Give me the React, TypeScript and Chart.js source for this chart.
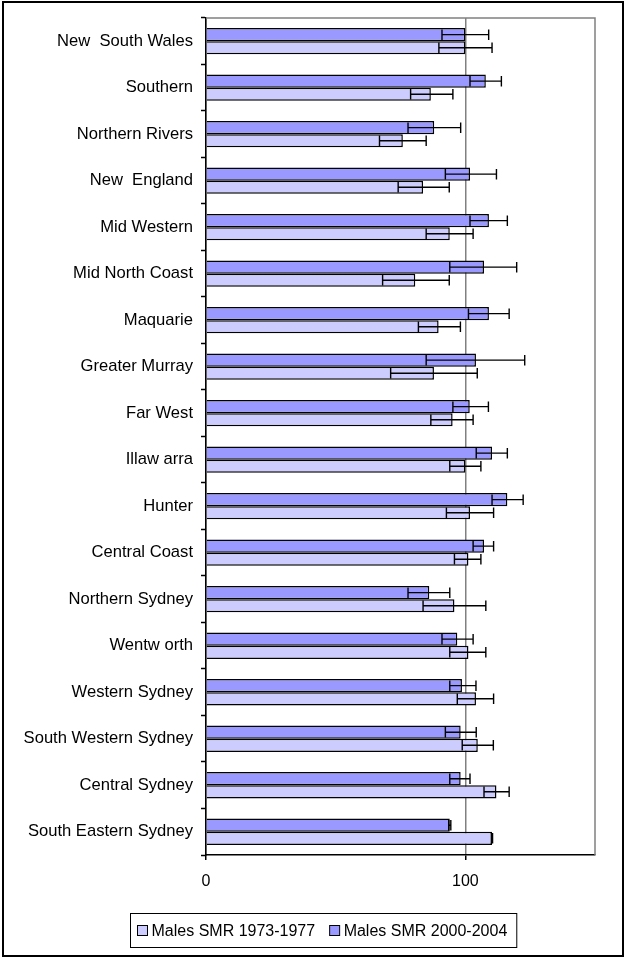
import React, { useEffect, useRef } from "react";
import { Chart, registerables } from "chart.js";

Chart.register(...registerables);

// Area health services, listed top to bottom
const regions = [
  "New  South Wales",
  "Southern",
  "Northern Rivers",
  "New  England",
  "Mid Western",
  "Mid North Coast",
  "Maquarie",
  "Greater Murray",
  "Far West",
  "Illaw arra",
  "Hunter",
  "Central Coast",
  "Northern Sydney",
  "Wentw orth",
  "Western Sydney",
  "South Western Sydney",
  "Central Sydney",
  "South Eastern Sydney",
];

// Standardised mortality ratios, males 1973-1977, with 95% confidence limits
const smr1973 = [100, 86.7, 75.9, 83.7, 94.0, 80.7, 89.7, 87.9, 95.1, 100.0, 101.8, 101.2, 95.8, 101.2, 104.1, 104.8, 112.0, 110.3];
const lower1973 = [89.8, 78.9, 66.9, 74.1, 84.9, 68.1, 81.9, 71.2, 86.7, 94.0, 92.7, 95.8, 83.7, 94.0, 96.9, 98.8, 107.2, 110.1];
const upper1973 = [110.3, 95.2, 84.9, 93.8, 103.0, 93.8, 98.1, 104.6, 103.0, 106.0, 110.9, 106.0, 107.9, 107.9, 110.9, 110.8, 116.9, 110.5];

// Standardised mortality ratios, males 2000-2004, with 95% confidence limits
const smr2000 = [100, 107.9, 88.0, 101.8, 109.1, 107.2, 109.1, 104.1, 101.7, 110.3, 116.2, 107.2, 86.1, 96.9, 98.7, 98.2, 98.2, 94.0];
const lower2000 = [91.0, 101.8, 77.9, 92.3, 101.8, 94.0, 101.2, 84.9, 95.2, 104.2, 110.3, 103.0, 77.9, 91.0, 94.0, 92.3, 94.0, 93.6];
const upper2000 = [109.0, 113.9, 98.2, 112.0, 116.2, 119.8, 116.9, 122.9, 108.9, 116.2, 122.3, 110.9, 94.0, 103.0, 104.1, 104.2, 101.8, 94.4];

const seriesLabels = ["Males SMR 1973-1977", "Males SMR 2000-2004"];
const seriesColors = ["#CCCCFF", "#9999FF"];

const xTicks = [0, 100];
const xMax = 150;

const FONT = "'Liberation Sans', Arial, Helvetica, sans-serif";

// Confidence-interval whiskers drawn across each bar
const errorBars = {
  id: "errorBars",
  afterDatasetsDraw(chart: any) {
    const { ctx } = chart;
    const xs = chart.scales.x;
    chart.data.datasets.forEach((ds: any, i: number) => {
      const meta = chart.getDatasetMeta(i);
      meta.data.forEach((bar: any, j: number) => {
        const { y, height } = bar.getProps(["y", "height"], true);
        const xl = xs.getPixelForValue(ds.lower[j]);
        const xh = xs.getPixelForValue(ds.upper[j]);
        const cap = height * 0.8;
        ctx.save();
        ctx.strokeStyle = "#000";
        ctx.lineWidth = 1.4;
        ctx.beginPath();
        ctx.moveTo(xl, y);
        ctx.lineTo(xh, y);
        ctx.moveTo(xl, y - cap / 2);
        ctx.lineTo(xl, y + cap / 2);
        ctx.moveTo(xh, y - cap / 2);
        ctx.lineTo(xh, y + cap / 2);
        ctx.stroke();
        ctx.restore();
      });
    });
  },
};

// Grey top and right edges of the plot area, plus the outer frame and legend box
const frame = {
  id: "frame",
  beforeDatasetsDraw(chart: any) {
    const { ctx, chartArea } = chart;
    ctx.save();
    ctx.strokeStyle = "#808080";
    ctx.lineWidth = 1.5;
    ctx.beginPath();
    ctx.moveTo(chartArea.left, chartArea.top);
    ctx.lineTo(chartArea.right, chartArea.top);
    ctx.lineTo(chartArea.right, chartArea.bottom);
    ctx.stroke();
    ctx.restore();
  },
  afterDraw(chart: any) {
    const { ctx, width, height } = chart;
    ctx.save();
    // outer frame
    ctx.strokeStyle = "#000";
    ctx.lineWidth = 2;
    ctx.strokeRect(3, 2, width - 5, height - 4);

    // legend
    ctx.font = `16px ${FONT}`;
    const box = 10;
    const gapBoxText = 4;
    const gapItems = 14.5;
    const padL = 7;
    const padR = 9.5;
    const widths = seriesLabels.map((t) => ctx.measureText(t).width);
    const inner = widths.reduce((a, w) => a + box + gapBoxText + w, 0) + gapItems * (seriesLabels.length - 1);
    const total = padL + inner + padR;
    const cx = 323.5;
    const left = Math.round(cx - total / 2) + 0.5;
    const top = 913.5;
    const h = 34;
    ctx.lineWidth = 1;
    ctx.strokeStyle = "#000";
    ctx.strokeRect(left, top, total, h);
    const midY = top + h / 2;
    let x = left + padL;
    seriesLabels.forEach((t, i) => {
      ctx.fillStyle = seriesColors[i];
      ctx.fillRect(x, midY - box / 2, box, box);
      ctx.strokeStyle = "#000";
      ctx.strokeRect(x, midY - box / 2, box, box);
      ctx.fillStyle = "#000";
      ctx.textBaseline = "middle";
      ctx.textAlign = "left";
      ctx.fillText(t, x + box + gapBoxText, midY + 1);
      x += box + gapBoxText + widths[i] + gapItems;
    });
    ctx.restore();
  },
};

export default function App() {
  const ref = useRef<HTMLCanvasElement | null>(null);

  useEffect(() => {
    document.body.style.margin = "0";
    const canvas = ref.current;
    if (!canvas) return;
    const chart = new Chart(canvas, {
      type: "bar",
      data: {
        labels: regions,
        datasets: [
          {
            label: seriesLabels[1],
            data: smr2000,
            lower: lower2000,
            upper: upper2000,
            backgroundColor: seriesColors[1],
            borderColor: "#000",
            borderWidth: 1.5,
          } as any,
          {
            label: seriesLabels[0],
            data: smr1973,
            lower: lower1973,
            upper: upper1973,
            backgroundColor: seriesColors[0],
            borderColor: "#000",
            borderWidth: 1.5,
          } as any,
        ],
      },
      options: {
        indexAxis: "y",
        responsive: false,
        animation: false,
        devicePixelRatio: 1,
        layout: { padding: { top: 17, right: 30, left: 0, bottom: 0 } },
        datasets: { bar: { categoryPercentage: 0.565, barPercentage: 1 } },
        plugins: {
          legend: { display: false },
          tooltip: { enabled: false },
        },
        scales: {
          x: {
            type: "linear",
            min: 0,
            max: xMax,
            afterBuildTicks: (s: any) => {
              s.ticks = xTicks.map((v) => ({ value: v }));
            },
            afterFit: (s: any) => {
              s.height = 103;
            },
            grid: {
              color: "#808080",
              lineWidth: 1.5,
              tickColor: "#000",
              tickLength: 5,
              tickWidth: 1.5,
            },
            border: { color: "#000", width: 1.5 },
            ticks: {
              color: "#000",
              font: { family: FONT, size: 16 },
              padding: 12,
              maxRotation: 0,
            },
          },
          y: {
            type: "category",
            afterFit: (s: any) => {
              s.width = 206;
            },
            grid: {
              drawOnChartArea: false,
              tickColor: "#000",
              tickLength: 5,
              tickWidth: 1.5,
              offset: true,
            },
            border: { color: "#000", width: 1.5 },
            ticks: {
              color: "#000",
              font: { family: FONT, size: 16.6 },
              padding: 8,
              autoSkip: false,
            },
          },
        },
      },
      plugins: [frame, errorBars],
    });
    return () => chart.destroy();
  }, []);

  return (
    <canvas
      ref={ref}
      width={625}
      height={958}
      style={{ display: "block", width: 625, height: 958 }}
    />
  );
}
